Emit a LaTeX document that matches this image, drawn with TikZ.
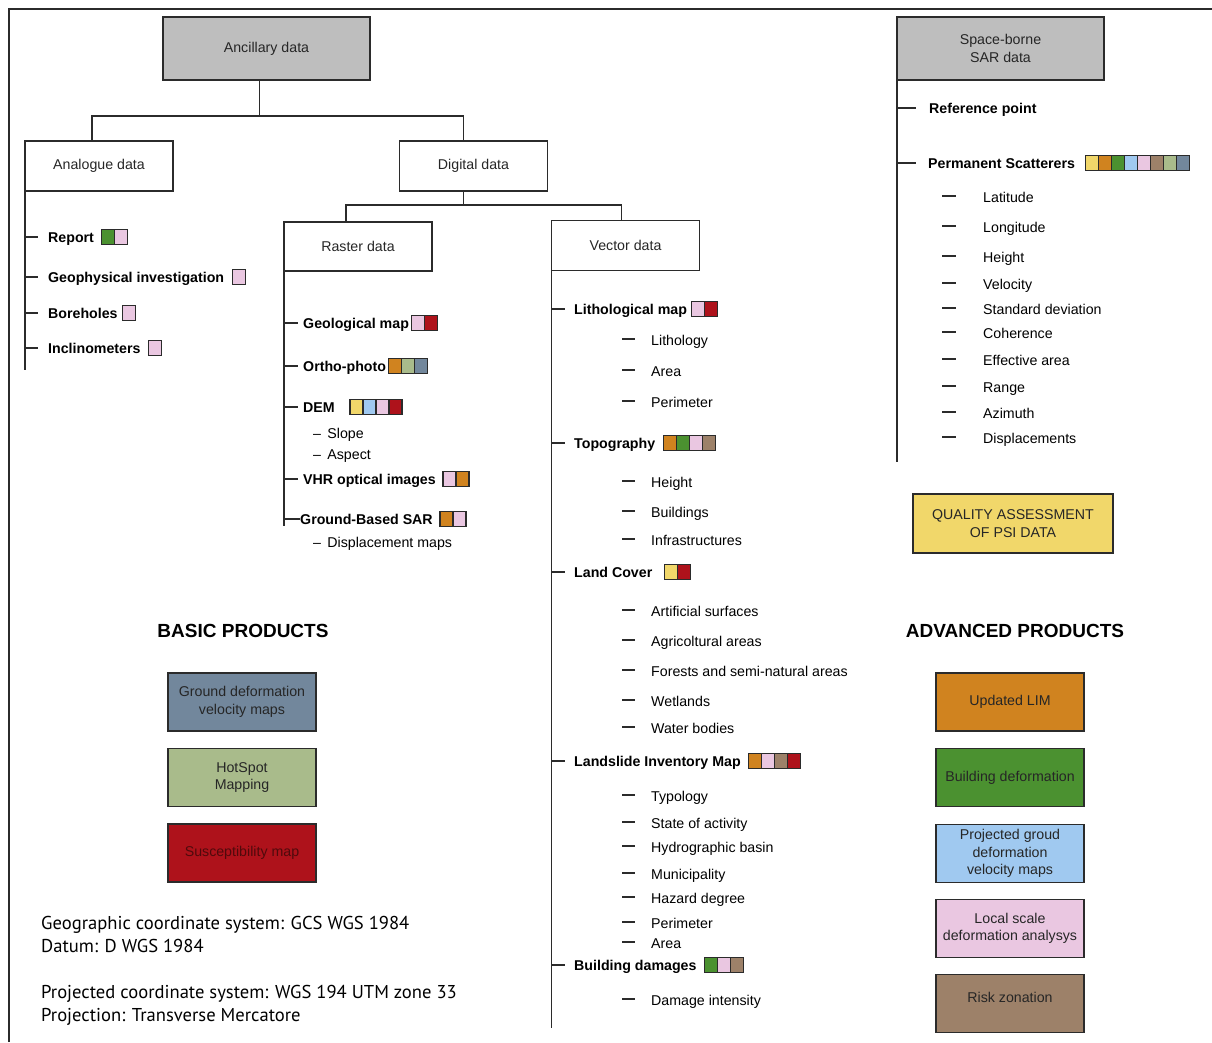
\documentclass[tikz,border=0pt]{standalone}
\usepackage{fontspec}
\setmainfont{Liberation Sans}
\newfontfamily\crsfont{PT Sans}
\usepackage{tikz}
\definecolor{linec}{RGB}{43,43,43}
\definecolor{boxgray}{RGB}{190,190,190}
\definecolor{cyel}{RGB}{241,215,106}
\definecolor{corg}{RGB}{208,131,31}
\definecolor{cgrn}{RGB}{75,145,48}
\definecolor{cblu}{RGB}{160,201,240}
\definecolor{cpnk}{RGB}{234,199,225}
\definecolor{cbrn}{RGB}{157,129,105}
\definecolor{csag}{RGB}{169,187,139}
\definecolor{csla}{RGB}{114,135,156}
\definecolor{cred}{RGB}{174,18,27}
\definecolor{sustxt}{RGB}{80,10,12}

% colour codes after an item: node, gap, colours
\newcommand{\swatches}[3]{%
  \foreach \swc [count=\swi from 0] in {#3}
    \draw[swbox, fill=\swc] ([xshift={#2+13*\swi}, yshift=7.5pt]#1.east) rectangle ++(13,15);}

\begin{document}
\begin{tikzpicture}[x=1pt, y=-1pt,
          datanode/.style={draw=linec, line width=1.8pt, outer sep=0pt,
                           minimum width=148pt, minimum height=50pt,
                           align=center, text=black!85,
                           font=\fontsize{14.2}{17.5}\selectfont},
          topnode/.style={datanode, fill=boxgray, minimum width=207pt, minimum height=63pt},
          prodnode/.style={datanode, minimum height=58pt},
          itemnode/.style={anchor=west, inner sep=0pt, text height=13.5pt, text depth=3pt,
                           font=\bfseries\fontsize{14.2}{17}\selectfont},
          subnode/.style={itemnode, font=\fontsize{14.2}{17}\selectfont},
          headnode/.style={font=\bfseries\fontsize{19}{22}\selectfont},
          crsnode/.style={anchor=west, inner sep=0pt, text height=16pt, text depth=4pt,
                          font=\crsfont\fontsize{18.6}{23}\selectfont},
          treeln/.style={draw=linec, line width=1.6pt},
          swbox/.style={draw=linec, line width=1.2pt}]
          \useasboundingbox (0,0) rectangle (1212,1042);
          \draw[treeln] (9,1042) -- (9,9) -- (1212,9);

          % ancillary data
          \node[topnode] (anc) at (266.5,48.5) {Ancillary data};
          \node[datanode] (an) at (99,166) {Analogue data};
          \node[datanode] (dig) at (473.5,166) {Digital data};
          \node[datanode, minimum height=49pt] (ras) at (358,246.5) {Raster data};
          \node[datanode] (vec) at (625.5,245.5) {Vector data};
          \draw[treeln] ([xshift=-7pt]anc.south) -- ++(0,36) coordinate (j1);
          \draw[treeln] ([xshift=-7pt]an.north) |- (j1) -| ([xshift=-10pt]dig.north);
          \draw[treeln] ([xshift=-10pt]dig.south) -- ++(0,14) coordinate (j2);
          \draw[treeln] ([xshift=-12pt]ras.north) |- (j2) -| ([xshift=-4pt]vec.north);

          % analogue data
          \node[itemnode] (rep) at (48,237) {Report};
          \node[itemnode] (gph) at (48,277) {Geophysical investigation};
          \node[itemnode] (bor) at (48,313) {Boreholes};
          \node[itemnode] (inc) at (48,348) {Inclinometers};
          \draw[treeln] (an.south west) -- ++(0,179);
          \foreach \n in {rep,gph,bor,inc}
            \draw[treeln] (an.south west |- \n.west) -- ++(13,0);
          \swatches{rep}{7}{cgrn,cpnk}
          \swatches{gph}{8}{cpnk}
          \swatches{bor}{5}{cpnk}
          \swatches{inc}{8}{cpnk}

          % raster data
          \node[itemnode] (geom) at (303,323) {Geological map};
          \node[itemnode] (orth) at (303,366) {Ortho-photo};
          \node[itemnode] (dem) at (303,407) {DEM};
          \node[subnode] (slp) at (313,433) {– \,Slope};
          \node[subnode] (asp) at (313,454) {– \,Aspect};
          \node[itemnode] (vhr) at (303,479) {VHR optical images};
          \node[itemnode] (gbs) at (300,519) {Ground-Based SAR};
          \node[subnode] (dmap) at (313,542) {– \,Displacement maps};
          \draw[treeln] (ras.south west) -- ++(0,255);
          \foreach \n in {geom,orth,dem,vhr}
            \draw[treeln] (ras.south west |- \n.west) -- ++(14,0);
          \draw[treeln] (ras.south west |- gbs.west) -- (gbs.west);
          \swatches{geom}{2}{cpnk,cred}
          \swatches{orth}{2}{corg,csag,csla}
          \swatches{dem}{15}{cyel,cblu,cpnk,cred}
          \swatches{vhr}{7}{cpnk,corg}
          \swatches{gbs}{7}{corg,cpnk}

          % vector data
          \node[itemnode] (lith) at (574,309) {Lithological map};
          \node[itemnode] (topo) at (574,443) {Topography};
          \node[itemnode] (land) at (574,572) {Land Cover};
          \node[itemnode] (lim) at (574,761) {Landslide Inventory Map};
          \node[itemnode] (bdam) at (574,965) {Building damages};
          \draw[treeln] (vec.south west) -- ++(0,757.5);
          \foreach \n in {lith,topo,land,lim,bdam}
            \draw[treeln] (vec.south west |- \n.west) -- ++(13,0);
          \swatches{lith}{4}{cpnk,cred}
          \swatches{topo}{8}{corg,cgrn,cpnk,cbrn}
          \swatches{land}{12}{cyel,cred}
          \swatches{lim}{8}{corg,cpnk,cbrn,cred}
          \swatches{bdam}{8}{cgrn,cpnk,cbrn}
          \foreach \t/\y [count=\i] in {Lithology/340, Area/371, Perimeter/402,
              Height/482, Buildings/512, Infrastructures/540,
              Artificial surfaces/611, Agricoltural areas/641,
              Forests and semi-natural areas/671, Wetlands/701, Water bodies/728,
              Typology/796, State of activity/823, Hydrographic basin/847,
              Municipality/874, Hazard degree/898, Perimeter/923, Area/943,
              Damage intensity/1000} {
            \node[subnode] (vs\i) at (651,\y) {\t};
            \draw[treeln] ([xshift=-29pt, yshift=1pt]vs\i.west) -- ++(13,0);
          }

          % space-borne SAR data
          \node[topnode] (sar) at (1000.5,48.5) {Space-borne\\SAR data};
          \node[itemnode] (refp) at (929,108) {Reference point};
          \node[itemnode] (pers) at (928,163) {Permanent Scatterers};
          \draw[treeln] (sar.south west) -- ++(0,382);
          \foreach \n in {refp,pers}
            \draw[treeln] (sar.south west |- \n.west) -- ++(19,0);
          \swatches{pers}{10}{cyel,corg,cgrn,cblu,cpnk,cbrn,csag,csla}
          \foreach \t/\y [count=\i] in {Latitude/197, Longitude/227, Height/257,
              Velocity/284, Standard deviation/309, Coherence/333,
              Effective area/360, Range/387, Azimuth/413, Displacements/438} {
            \node[subnode] (ps\i) at (983,\y) {\t};
            \draw[treeln] ([xshift=-41pt, yshift=1pt]ps\i.west) -- ++(14,0);
          }
          \node[datanode, fill=cyel, minimum width=200pt, minimum height=59pt] (qa)
            at (1013,523.5) {QUALITY ASSESSMENT\\OF PSI DATA};

          % products
          \node[headnode] (bp) at (243,631) {BASIC PRODUCTS};
          \node[prodnode, fill=csla] (gdv) at (242,702) {Ground deformation\\velocity maps};
          \node[prodnode, fill=csag] (hsm) at (242,777.5) {HotSpot\\Mapping};
          \node[prodnode, fill=cred, text=sustxt] (sus) at (242,853) {Susceptibility map};
          \node[headnode] (ap) at (1015,631) {ADVANCED PRODUCTS};
          \node[prodnode, fill=corg] (ulim) at (1010,702) {Updated LIM};
          \node[prodnode, fill=cgrn] (bdef) at (1010,777.5) {Building deformation};
          \node[prodnode, fill=cblu] (pgd) at (1010,853.5) {Projected groud\\deformation\\velocity maps};
          \node[prodnode, fill=cpnk] (lsd) at (1010,928.5) {Local scale\\deformation analysys};
          \node[prodnode, fill=cbrn, text height=10pt, text depth=12pt] (rz) at (1010,1003.5) {Risk zonation};

          % reference systems
          \node[crsnode] (gcs) at (41,923) {Geographic coordinate system: GCS WGS 1984};
          \node[crsnode] (dat) at (41,946) {Datum: D WGS 1984};
          \node[crsnode] (pcs) at (41,992) {Projected coordinate system: WGS 194 UTM zone 33};
          \node[crsnode] (prj) at (41,1015) {Projection: Transverse Mercatore};
        \end{tikzpicture}
\end{document}
